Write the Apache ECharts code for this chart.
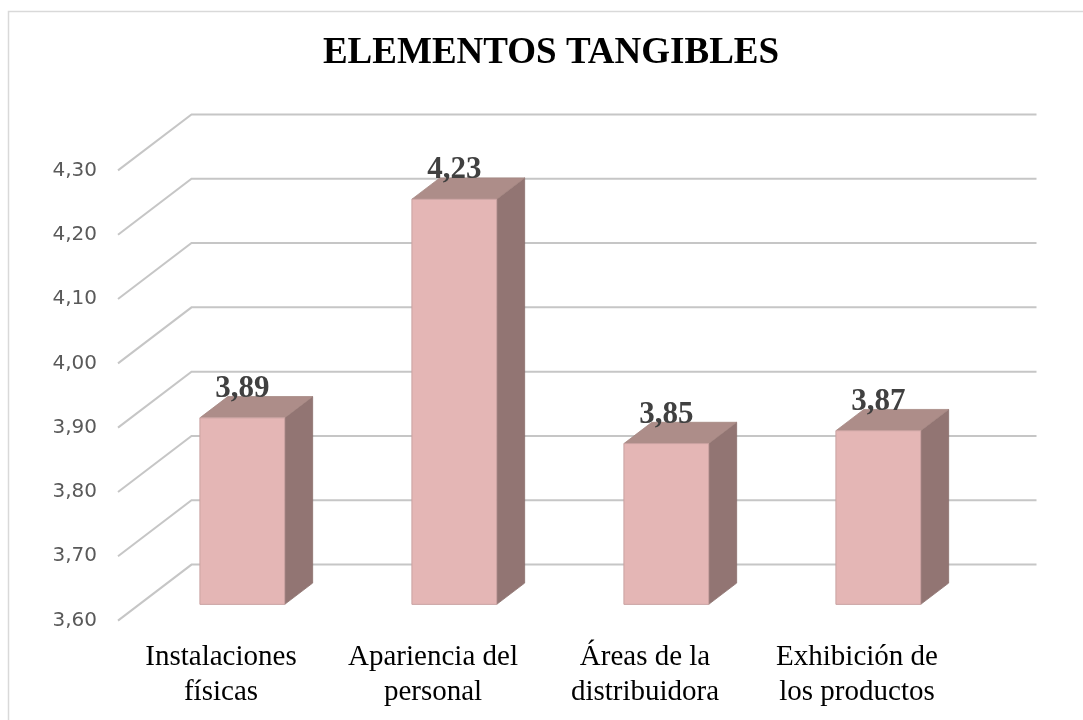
<!DOCTYPE html>
<html>
<head>
<meta charset="utf-8">
<script src="https://cdn.jsdelivr.net/npm/echarts@6/dist/echarts.min.js"></script>
<style>
  html, body { margin: 0; padding: 0; background: #fff; }
  #chart { width: 1083px; height: 720px; }
</style>
</head>
<body>
<div id="chart"></div>
<script>
const titleText = 'ELEMENTOS TANGIBLES';
const categories = ['Instalaciones\nfísicas', 'Apariencia del\npersonal', 'Áreas de la\ndistribuidora', 'Exhibición de\nlos productos'];
const values = [3.89, 4.23, 3.85, 3.87];
const yTicks = [3.6, 3.7, 3.8, 3.9, 4.0, 4.1, 4.2, 4.3];
const yMin = 3.6, yMax = 4.3, yStep = 0.1;

// 3D projection constants (pixels): full depth of the floor, bar depth placement
const DEPTH_DX = 73.5, DEPTH_DY = -56;
const BAR_D0 = 0.29, BAR_D1 = 0.67;
const BAR_FRAC = 0.40;

const fmt = v => v.toFixed(2).replace('.', ',');

const chart = echarts.init(document.getElementById('chart'), null, { renderer: 'canvas' });

function gridRender(params, api) {
  const cs = params.coordSys;
  const v = api.value(0);
  const y = api.coord([0, v])[1];
  const x0 = cs.x + 3;
  return {
    type: 'polyline',
    shape: { points: [[x0, y], [x0 + DEPTH_DX, y + DEPTH_DY], [cs.x + cs.width + DEPTH_DX, y + DEPTH_DY]] },
    style: { stroke: '#C6C6C6', lineWidth: 2, fill: null },
    silent: true
  };
}

function barRender(params, api) {
  const i = api.value(0);
  const v = api.value(1);
  const top = api.coord([i, v]);
  const base = api.coord([i, yMin]);
  const band = api.size([1, 0])[0];
  const hw = band * BAR_FRAC / 2;
  const ox = BAR_D0 * DEPTH_DX, oy = BAR_D0 * DEPTH_DY;
  const ddx = (BAR_D1 - BAR_D0) * DEPTH_DX, ddy = (BAR_D1 - BAR_D0) * DEPTH_DY;
  const cx = top[0] + ox;
  const xl = cx - hw, xr = cx + hw;
  const yt = top[1] + oy, yb = base[1] + oy;
  return {
    type: 'group',
    children: [
      { type: 'polygon', shape: { points: [[xr, yt], [xr, yb], [xr + ddx, yb + ddy], [xr + ddx, yt + ddy]] },
        style: { fill: '#927573', stroke: '#8A6E6C', lineWidth: 0.8 } },
      { type: 'polygon', shape: { points: [[xl, yt], [xr, yt], [xr + ddx, yt + ddy], [xl + ddx, yt + ddy]] },
        style: { fill: '#AD8D89', stroke: '#A58682', lineWidth: 0.8 } },
      { type: 'rect', shape: { x: xl, y: yt, width: xr - xl, height: yb - yt },
        style: { fill: '#E4B6B5', stroke: '#C9A1A0', lineWidth: 1 } },
      { type: 'text', x: cx, y: yt - 29,
        style: { text: fmt(v), font: 'bold 31px "Liberation Serif", "Times New Roman", serif', fill: '#404040', align: 'center', verticalAlign: 'middle' } }
    ]
  };
}

const option = {
  animation: false,
  backgroundColor: '#ffffff',
  title: {
    text: titleText,
    left: 551, top: 35, textAlign: 'center', padding: 0,
    textStyle: { fontFamily: '"Liberation Serif", "Times New Roman", serif', fontSize: 37, fontWeight: 'bold', color: '#000000' }
  },
  graphic: [
    { type: 'rect', z: -10, silent: true, shape: { x: 8.5, y: 11.5, width: 1100, height: 800 },
      style: { fill: null, stroke: '#D9D9D9', lineWidth: 1.5 } }
  ],
  grid: { left: 115, right: 120, top: 170.4, bottom: 99.4, containLabel: false },
  xAxis: {
    type: 'category',
    data: categories,
    axisLine: { show: false },
    axisTick: { show: false },
    splitLine: { show: false },
    axisLabel: {
      interval: 0, margin: 19, lineHeight: 35,
      fontFamily: '"Liberation Serif", "Times New Roman", serif', fontSize: 29, color: '#000000'
    }
  },
  yAxis: {
    type: 'value',
    min: yMin, max: yMax, interval: yStep,
    axisLine: { show: false },
    axisTick: { show: false },
    splitLine: { show: false },
    axisLabel: {
      margin: 18, formatter: v => fmt(v),
      fontFamily: '"DejaVu Sans", sans-serif', fontSize: 20, color: '#595959'
    }
  },
  series: [
    {
      type: 'custom', name: 'grid', z: 1, silent: true,
      renderItem: gridRender,
      data: yTicks.map(t => [t]),
      encode: { y: 0 }
    },
    {
      type: 'custom', name: 'bars', z: 5,
      renderItem: barRender,
      data: values.map((v, i) => [i, v]),
      encode: { x: 0, y: 1 }
    }
  ]
};
chart.setOption(option);
</script>
</body>
</html>
